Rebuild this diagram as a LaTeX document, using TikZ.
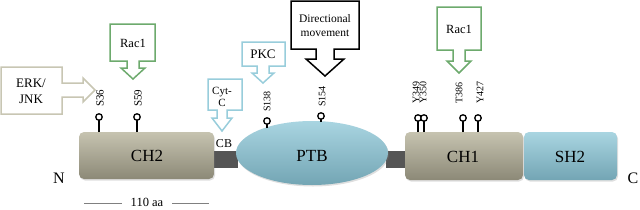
\documentclass[tikz,border=0pt]{standalone}
\usepackage{fontspec}
\setmainfont{Liberation Serif}
\usetikzlibrary{shadows}
\definecolor{khakiT}{HTML}{C6C3B0}
\definecolor{khakiB}{HTML}{8C8977}
\definecolor{blueT}{HTML}{A9D5E1}
\definecolor{blueB}{HTML}{73A5B4}
\definecolor{cbgray}{HTML}{555555}
\definecolor{erkc}{HTML}{C8C6B3}
\definecolor{racc}{HTML}{6DAA6D}
\definecolor{lbc}{HTML}{98CDDB}
\tikzset{
  dom/.style={rounded corners=5pt, top color=khakiT, bottom color=khakiB, draw=none,
    drop shadow={opacity=0.25, shadow xshift=1pt, shadow yshift=-1.5pt}},
  bluedom/.style={dom, top color=blueT, bottom color=blueB},
  domtext/.style={font=\fontsize{17}{17}\selectfont, inner sep=0pt},
  callout/.style={line width=1.5pt, fill=white, line join=miter},
  ctext/.style={align=center, inner sep=0pt},
  lolli/.style={circle, draw=black, line width=1.3pt, minimum size=6.5pt, inner sep=0pt, fill=white},
  stem/.style={line width=1.4pt},
  res/.style={rotate=90, anchor=west, inner sep=0pt, font=\fontsize{10}{10}\selectfont},
}
\begin{document}
\begin{tikzpicture}[x=1pt,y=-1pt]
\useasboundingbox (0,0) rectangle (640,209);

% linkers
\fill[cbgray] (214,151) rectangle (238,168);
\fill[cbgray] (386,151) rectangle (406,168);
% domains
\path[dom] (79,132) rectangle (214,179);
\node[domtext] (ch2) at (147,156) {CH2};
\path[dom] (405,132) rectangle (523,180);
\node[domtext] (ch1) at (463,157) {CH1};
\path[bluedom] (524,132) rectangle (617,180);
\node[domtext] (sh2) at (570,157) {SH2};
\path[bluedom] (312,153) ellipse [x radius=76, y radius=32];
\node[domtext] (ptb) at (312,156) {PTB};
\node[inner sep=0pt, font=\fontsize{12}{12}\selectfont] (cb) at (224,144) {CB};

% termini and scale
\node[inner sep=0pt, font=\fontsize{16}{16}\selectfont] (nterm) at (59,178) {N};
\node[inner sep=0pt, font=\fontsize{16}{16}\selectfont] (cterm) at (633,178) {C};
\node[inner sep=0pt, font=\fontsize{12.5}{12.5}\selectfont] (scale) at (147,202.5) {110 aa};
\coordinate (sl) at (84,203); \coordinate (sr) at (209,203);
\draw[gray, line width=0.8pt] (sl) -- (122,203);
\draw[gray, line width=0.8pt] (172,203) -- (sr);

% lollipops
\foreach \n/\x/\y/\yb in {36/99/117/132, 59/137/117/132, 138/267/121/128, 154/321/116/122, 349/418/118/132, 350/424/118/132, 386/463/118/132, 427/478/118/132}{
  \coordinate (b\n) at (\x,\yb);
  \draw[stem] (b\n) -- (\x,\y);
  \node[lolli] (p\n) at (\x,\y) {};
}
\node[res, font=\fontsize{11}{11}\selectfont] (l36) at (100,107) {S36};
\node[res, font=\fontsize{11}{11}\selectfont] (l59) at (138,107) {S59};
\node[res] (l138) at (267,112) {S138};
\node[res] (l154) at (322,107) {S154};
\node[res] (l349) at (416,104) {Y349};
\node[res] (l350) at (423,104) {Y350};
\node[res] (l386) at (459,104) {T386};
\node[res] (l427) at (480,104) {Y427};

% callouts
\draw[callout, draw=erkc] (1,67) -- (62,67) -- (62,83) -- (83,83) -- (83,78) -- (95,90) -- (83,102) -- (83,97) -- (62,97) -- (62,114) -- (1,114) -- cycle;
\node[ctext, font=\fontsize{13}{16}\selectfont] (erk) at (31,91) {ERK/\\JNK};

\draw[callout, draw=racc] (110,24) -- (155,24) -- (155,61) -- (139,61) -- (139,68) -- (145,68) -- (133,79) -- (121,68) -- (127,68) -- (127,61) -- (110,61) -- cycle;
\node[ctext, font=\fontsize{12.5}{13}\selectfont] (rac1) at (133,43) {Rac1};

\draw[callout, draw=lbc] (208,79) -- (242,79) -- (242,110) -- (227,110) -- (227,118) -- (232,118) -- (222,131) -- (212,118) -- (217,118) -- (217,110) -- (208,110) -- cycle;
\node[ctext, font=\fontsize{11}{12}\selectfont] (cytc) at (222,97) {Cyt-\\C};

\draw[callout, draw=lbc] (242,42) -- (285,42) -- (285,66) -- (269,66) -- (269,73) -- (274,73) -- (263,83) -- (252,73) -- (257,73) -- (257,66) -- (242,66) -- cycle;
\node[ctext, font=\fontsize{13}{13}\selectfont] (pkc) at (263,54) {PKC};

\draw[callout, draw=black] (291,1) -- (359,1) -- (359,49) -- (334,49) -- (334,59) -- (344,59) -- (325,76) -- (306,59) -- (316,59) -- (316,49) -- (291,49) -- cycle;
\node[ctext, font=\fontsize{11.5}{14}\selectfont] (dir) at (325,26) {Directional\\movement};

\draw[callout, draw=racc] (437,7) -- (481,7) -- (481,50) -- (465,50) -- (465,61) -- (471,61) -- (459,73) -- (447,61) -- (453,61) -- (453,50) -- (437,50) -- cycle;
\node[ctext, font=\fontsize{12.5}{13}\selectfont] (rac2) at (459,29) {Rac1};
\end{tikzpicture}
\end{document}
